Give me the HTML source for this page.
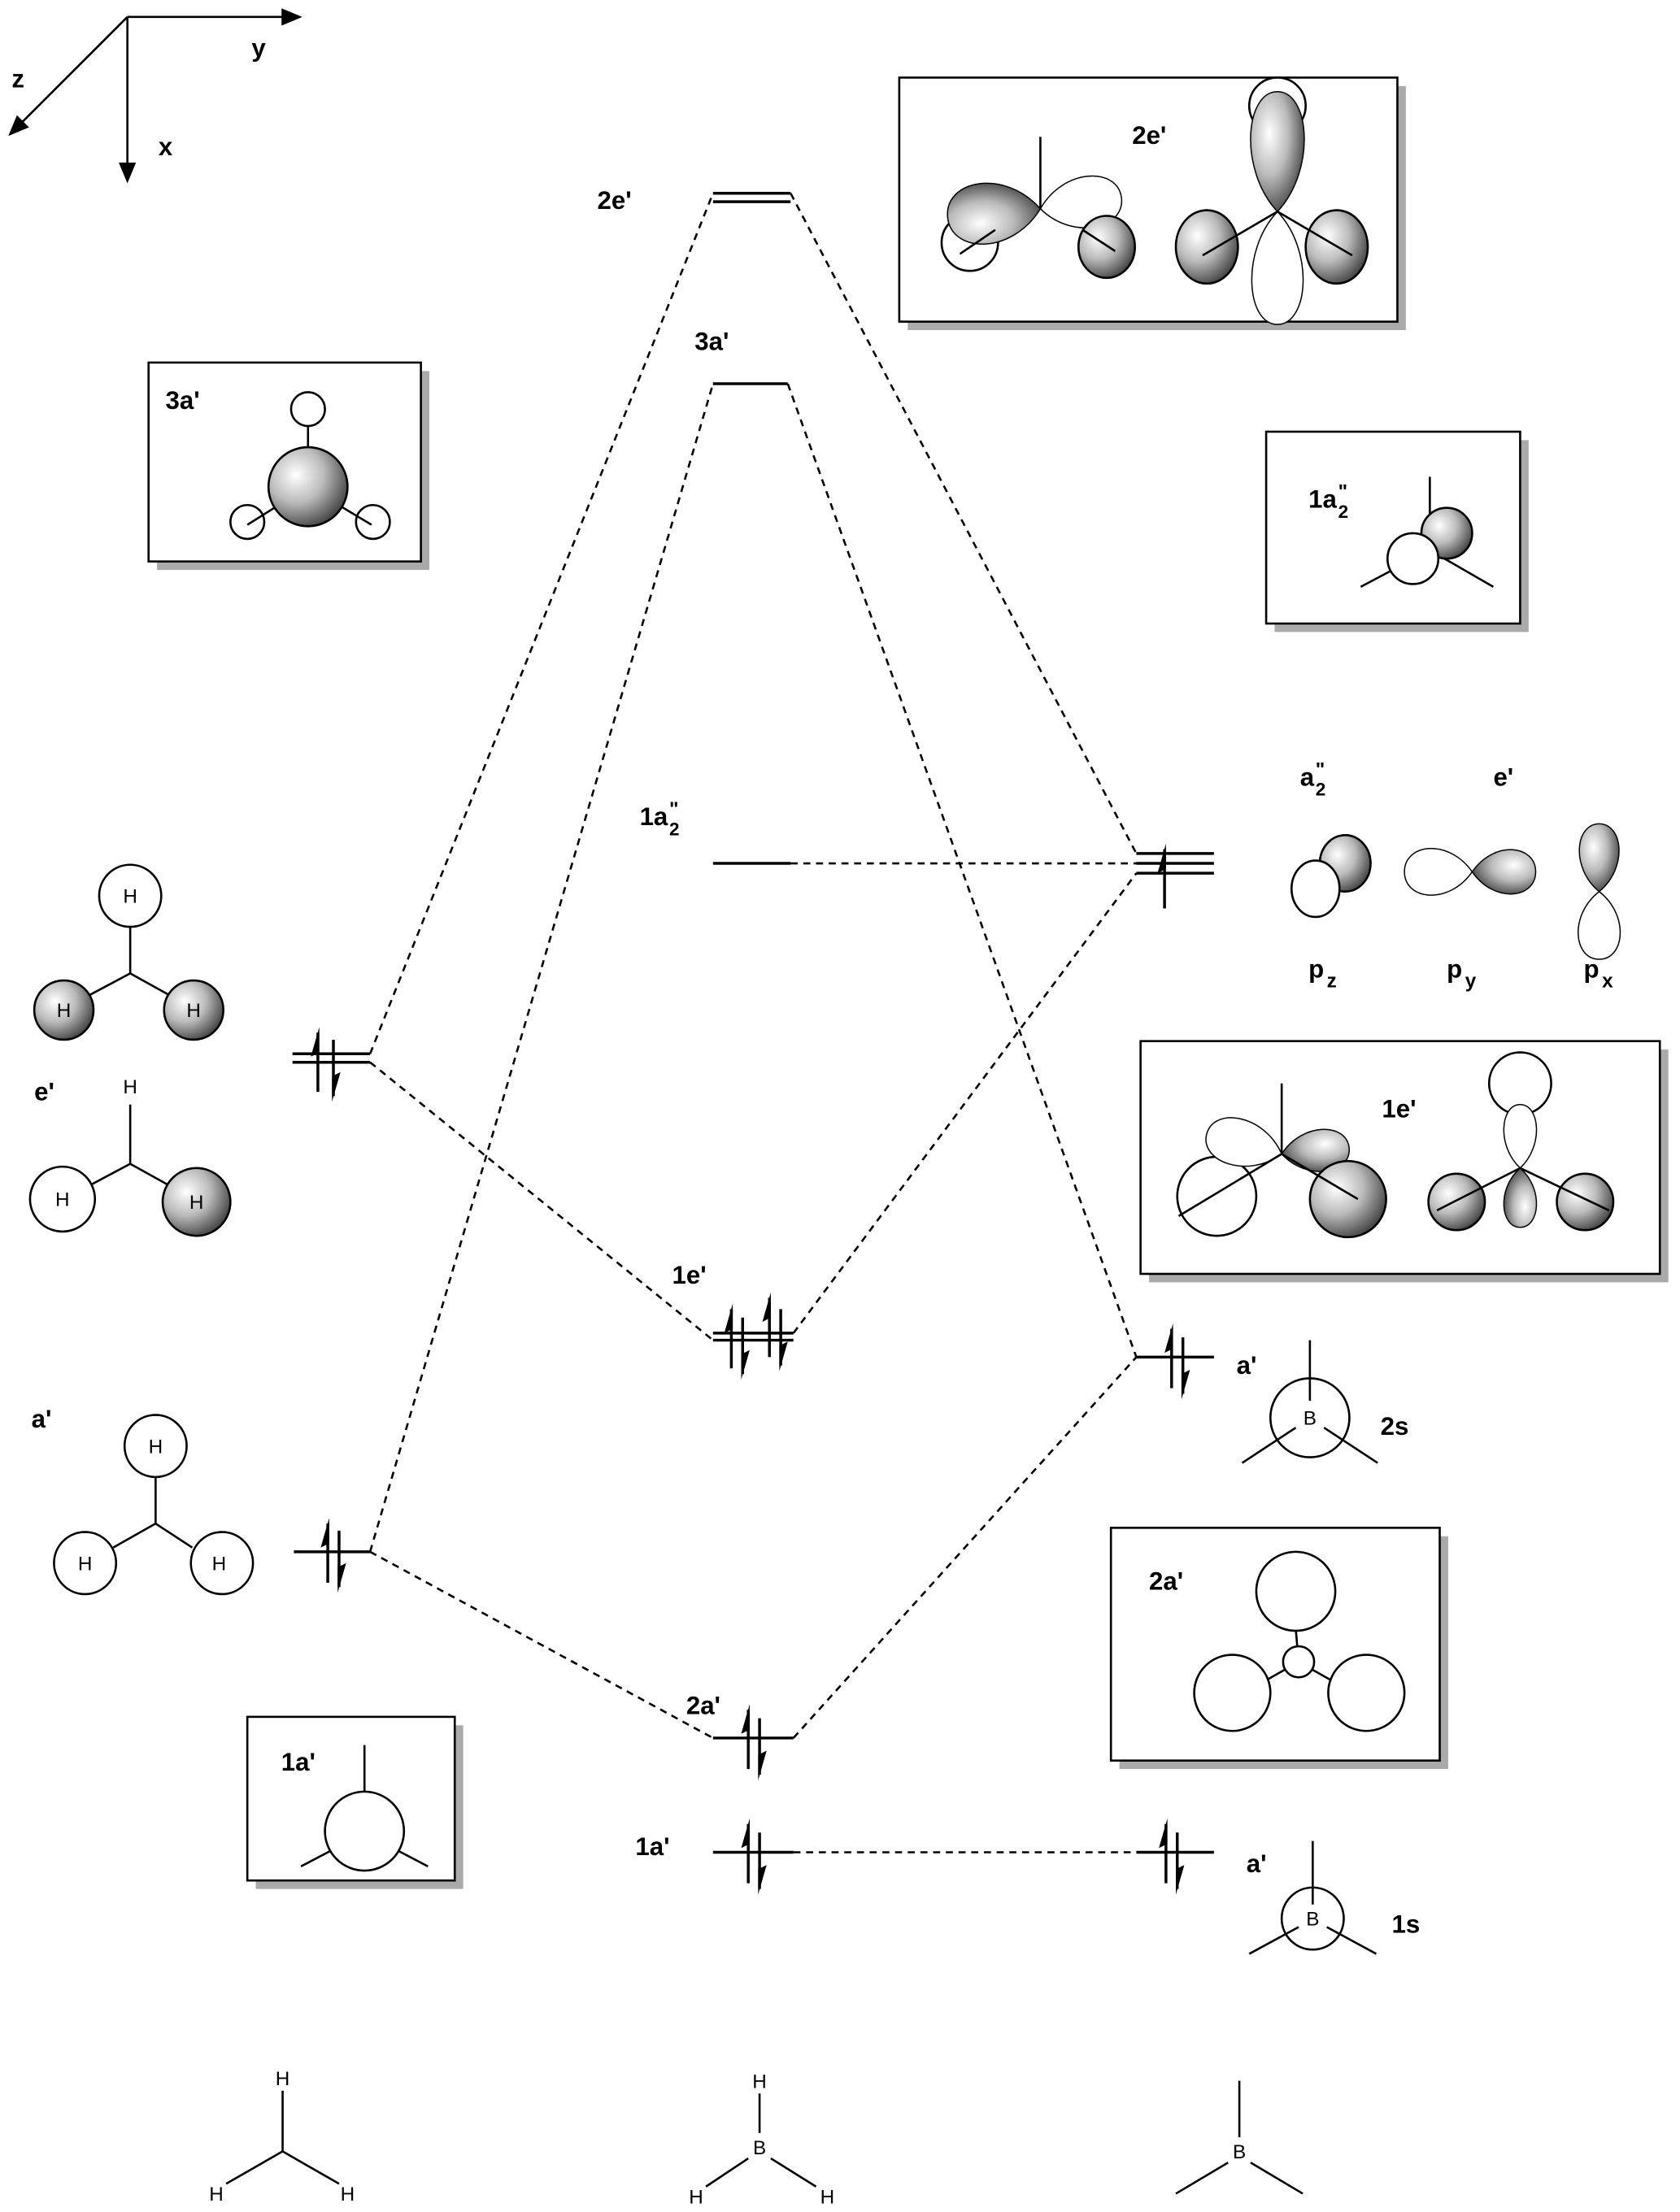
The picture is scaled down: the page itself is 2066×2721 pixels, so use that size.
<!DOCTYPE html>
<html><head><meta charset="utf-8"><style>
html,body{margin:0;padding:0;background:#fff;}
svg{display:block;}
text{font-family:"Liberation Sans",sans-serif;}
.b{font-weight:bold;font-size:18px;}
.h{font-size:14px;}
</style></head><body>
<svg width="2066" height="2721" viewBox="0 0 1190 1568" xmlns="http://www.w3.org/2000/svg">
<defs>
<radialGradient id="g" cx="35%" cy="35%" r="70%">
<stop offset="0" stop-color="#fff"/><stop offset="0.5" stop-color="#bbb"/><stop offset="1" stop-color="#444"/>
</radialGradient>
<path id="lobe" vector-effect="non-scaling-stroke" d="M0 0 C -1.2 -0.35 -1 -1 0 -1 C 1 -1 1.2 -0.35 0 0 Z"/>
<g id="up"><line x1="0" y1="-20" x2="0" y2="22" stroke="#000" stroke-width="2"/><polygon points="1,-24 -5,-3 1,-6" fill="#000"/></g>
<g id="dn"><line x1="0" y1="-18" x2="0" y2="22" stroke="#000" stroke-width="2"/><polygon points="-1,26 5,5 -1,8" fill="#000"/></g>
</defs>
<g stroke="#000" stroke-width="1.5" fill="none">
<line x1="90" y1="12" x2="205" y2="12"/><polygon points="212,12 200,7 200,17" fill="#000"/>
<line x1="90" y1="12" x2="90" y2="120"/><polygon points="90,128 85,116 95,116" fill="#000"/>
<line x1="90" y1="12" x2="12" y2="90"/><polygon points="7,95 12,83 19,90" fill="#000"/>
</g>
<text x="178" y="40" class="b">y</text><text x="112" y="110" class="b">x</text><text x="8" y="62" class="b">z</text>

<g fill="#aaa">
<rect x="643" y="61" width="353" height="173"/><rect x="111" y="263" width="193" height="141"/>
<rect x="903" y="312" width="180" height="136"/><rect x="814" y="744" width="368" height="165"/>
<rect x="793" y="1089" width="233" height="165"/><rect x="181" y="1223" width="147" height="116"/>
</g>
<g fill="#fff" stroke="#000" stroke-width="1.5">
<rect x="637" y="55" width="353" height="173"/><rect x="105" y="257" width="193" height="141"/>
<rect x="897" y="306" width="180" height="136"/><rect x="808" y="738" width="368" height="165"/>
<rect x="787" y="1083" width="233" height="165"/><rect x="175" y="1217" width="147" height="116"/>
</g>

<g stroke="#000" stroke-width="1.5" stroke-dasharray="5,4" fill="none">
<line x1="262" y1="747" x2="505" y2="137"/><line x1="560" y1="137" x2="805" y2="605"/>
<line x1="262" y1="1100" x2="505" y2="272"/><line x1="558" y1="272" x2="805" y2="962"/>
<line x1="560" y1="612" x2="805" y2="612"/>
<line x1="262" y1="753" x2="505" y2="950"/><line x1="562" y1="945" x2="805" y2="619"/>
<line x1="262" y1="1100" x2="505" y2="1232"/><line x1="562" y1="1232" x2="805" y2="962"/>
<line x1="562" y1="1313" x2="805" y2="1313"/>
</g>
<g stroke="#000" stroke-width="2">
<line x1="505" y1="137" x2="560" y2="137"/><line x1="505" y1="143" x2="560" y2="143"/>
<line x1="505" y1="272" x2="558" y2="272"/>
<line x1="505" y1="612" x2="560" y2="612"/>
<line x1="505" y1="945" x2="562" y2="945"/><line x1="505" y1="950" x2="562" y2="950"/>
<line x1="505" y1="1232" x2="562" y2="1232"/>
<line x1="505" y1="1313" x2="562" y2="1313"/>
<line x1="207" y1="747" x2="262" y2="747"/><line x1="207" y1="753" x2="262" y2="753"/>
<line x1="208" y1="1100" x2="262" y2="1100"/>
<line x1="805" y1="605" x2="860" y2="605"/><line x1="805" y1="612" x2="860" y2="612"/><line x1="805" y1="619" x2="860" y2="619"/>
<line x1="805" y1="962" x2="860" y2="962"/>
<line x1="805" y1="1313" x2="860" y2="1313"/>
</g>
<use href="#up" x="225" y="752"/><use href="#dn" x="236" y="755"/>
<use href="#up" x="232" y="1100"/><use href="#dn" x="240" y="1103"/>
<use href="#up" x="518" y="948"/><use href="#dn" x="526" y="952"/>
<use href="#up" x="545" y="940"/><use href="#dn" x="553" y="946"/>
<use href="#up" x="530" y="1232"/><use href="#dn" x="538" y="1236"/>
<use href="#up" x="530" y="1313"/><use href="#dn" x="538" y="1317"/>
<use href="#up" x="825" y="622"/>
<use href="#up" x="830" y="962"/><use href="#dn" x="838" y="966"/>
<use href="#up" x="826" y="1313"/><use href="#dn" x="834" y="1317"/>

<g class="b">
<text x="423" y="148">2e'</text><text x="492" y="248">3a'</text>
<text x="453" y="585">1a</text><text x="474" y="578" font-size="14">"</text><text x="474" y="592" font-size="13">2</text>
<text x="476" y="910">1e'</text><text x="486" y="1215">2a'</text><text x="450" y="1315">1a'</text>
<text x="24" y="780">e'</text><text x="22" y="1012">a'</text>
<text x="921" y="557">a</text><text x="932" y="550" font-size="14">"</text><text x="932" y="564" font-size="13">2</text>
<text x="1058" y="557">e'</text>
<text x="927" y="693">p</text><text x="940" y="700" font-size="14">z</text>
<text x="1025" y="693">p</text><text x="1038" y="700" font-size="14">y</text>
<text x="1122" y="693">p</text><text x="1135" y="700" font-size="14">x</text>
<text x="876" y="974">a'</text><text x="978" y="1017">2s</text>
<text x="883" y="1327">a'</text><text x="986" y="1370">1s</text>
<text x="802" y="102">2e'</text><text x="117" y="290">3a'</text>
<text x="927" y="360">1a</text><text x="948" y="353" font-size="14">"</text><text x="948" y="367" font-size="13">2</text>
<text x="979" y="792">1e'</text><text x="814" y="1127">2a'</text><text x="199" y="1255">1a'</text>
</g>

<g stroke="#000" stroke-width="1.5">
<circle cx="687" cy="172" r="20" fill="#fff"/>
<use href="#lobe" transform="translate(737,148) rotate(-95) scale(26,66)" fill="url(#g)"/>
<use href="#lobe" transform="translate(737,148) rotate(82) scale(22,58)" fill="#fff"/>
<ellipse cx="784" cy="175" rx="20" ry="22" fill="url(#g)"/>
<line x1="737" y1="148" x2="737" y2="97"/><line x1="680" y1="180" x2="705" y2="163"/><line x1="767" y1="163" x2="790" y2="178"/>
<circle cx="905" cy="75" r="20" fill="#fff"/>
<use href="#lobe" transform="translate(905,150) scale(23,85)" fill="url(#g)"/>
<use href="#lobe" transform="translate(905,150) rotate(180) scale(22,80)" fill="#fff"/>
<ellipse cx="855" cy="175" rx="22" ry="26" fill="url(#g)"/><ellipse cx="947" cy="175" rx="22" ry="26" fill="url(#g)"/>
<line x1="905" y1="150" x2="852" y2="181" /><line x1="905" y1="150" x2="958" y2="181"/>
<line x1="218" y1="345" x2="218" y2="302"/><line x1="218" y1="345" x2="175" y2="372"/><line x1="218" y1="345" x2="263" y2="372"/>
<circle cx="218" cy="290" r="12" fill="#fff"/><circle cx="175" cy="370" r="12" fill="none"/><circle cx="264" cy="370" r="12" fill="none"/>
<circle cx="218" cy="345" r="28" fill="url(#g)"/>
<line x1="1013" y1="390" x2="1013" y2="338"/><line x1="1013" y1="390" x2="964" y2="416"/><line x1="1013" y1="390" x2="1058" y2="416"/>
<circle cx="1025" cy="378" r="18" fill="url(#g)"/><circle cx="1001" cy="396" r="18" fill="#fff"/>
<ellipse cx="953" cy="612" rx="18" ry="20" fill="url(#g)"/><ellipse cx="932" cy="630" rx="17" ry="20" fill="#fff"/>
<use href="#lobe" transform="translate(1043,618) rotate(-90) scale(20,48)" fill="#fff"/>
<use href="#lobe" transform="translate(1043,618) rotate(90) scale(19,45)" fill="url(#g)"/>
<use href="#lobe" transform="translate(1133,632) scale(17,48)" fill="url(#g)"/>
<use href="#lobe" transform="translate(1133,632) rotate(180) scale(18,48)" fill="#fff"/>
<circle cx="862" cy="848" r="28" fill="#fff"/>
<use href="#lobe" transform="translate(908,818) rotate(-75) scale(20,55)" fill="#fff"/>
<use href="#lobe" transform="translate(908,818) rotate(85) scale(18,48)" fill="url(#g)"/>
<circle cx="955" cy="850" r="27" fill="url(#g)"/>
<line x1="908" y1="818" x2="908" y2="768"/><line x1="908" y1="818" x2="835" y2="862"/><line x1="908" y1="818" x2="962" y2="850"/>
<circle cx="1077" cy="768" r="22" fill="#fff"/>
<use href="#lobe" transform="translate(1077,828) scale(14,45)" fill="#fff"/>
<use href="#lobe" transform="translate(1077,828) rotate(180) scale(14,42)" fill="url(#g)"/>
<circle cx="1032" cy="852" r="20" fill="url(#g)"/><circle cx="1123" cy="852" r="20" fill="url(#g)"/>
<line x1="1077" y1="828" x2="1018" y2="858"/><line x1="1077" y1="828" x2="1140" y2="858"/>
<line x1="920" y1="1178" x2="918" y2="1155"/><line x1="920" y1="1178" x2="890" y2="1195"/><line x1="920" y1="1178" x2="950" y2="1195"/>
<circle cx="918" cy="1128" r="28" fill="#fff"/><circle cx="873" cy="1200" r="27" fill="#fff"/><circle cx="968" cy="1200" r="27" fill="#fff"/><circle cx="920" cy="1178" r="11" fill="#fff"/>
<circle cx="258" cy="1298" r="28" fill="#fff"/>
<line x1="258" y1="1270" x2="258" y2="1237"/><line x1="234" y1="1312" x2="213" y2="1323"/><line x1="282" y1="1312" x2="303" y2="1323"/>
<line x1="92" y1="690" x2="92" y2="657"/><line x1="92" y1="690" x2="45" y2="715"/><line x1="92" y1="690" x2="137" y2="715"/>
<circle cx="92" cy="635" r="22" fill="#fff"/><circle cx="45" cy="716" r="21" fill="url(#g)"/><circle cx="137" cy="716" r="21" fill="url(#g)"/>
<line x1="92" y1="825" x2="92" y2="783"/><line x1="92" y1="825" x2="45" y2="850"/><line x1="92" y1="825" x2="137" y2="850"/>
<circle cx="44" cy="850" r="23" fill="#fff"/><circle cx="139" cy="852" r="24" fill="url(#g)"/>
<line x1="110" y1="1080" x2="110" y2="1047"/><line x1="110" y1="1080" x2="80" y2="1097"/><line x1="110" y1="1080" x2="136" y2="1097"/>
<circle cx="110" cy="1025" r="22" fill="#fff"/><circle cx="60" cy="1108" r="22" fill="#fff"/><circle cx="157" cy="1108" r="22" fill="#fff"/>
<circle cx="928" cy="1005" r="28" fill="#fff"/>
<line x1="928" y1="950" x2="928" y2="993"/><line x1="918" y1="1012" x2="880" y2="1037"/><line x1="938" y1="1012" x2="976" y2="1037"/>
<circle cx="930" cy="1360" r="22" fill="#fff"/>
<line x1="930" y1="1305" x2="930" y2="1350"/><line x1="920" y1="1366" x2="885" y2="1385"/><line x1="940" y1="1366" x2="975" y2="1385"/>
<line x1="200" y1="1482" x2="200" y2="1525"/><line x1="200" y1="1525" x2="160" y2="1548"/><line x1="200" y1="1525" x2="240" y2="1548"/>
<line x1="538" y1="1484" x2="538" y2="1512"/><line x1="530" y1="1530" x2="500" y2="1550"/><line x1="546" y1="1530" x2="578" y2="1550"/>
<line x1="878" y1="1475" x2="878" y2="1515"/><line x1="870" y1="1533" x2="833" y2="1555"/><line x1="886" y1="1533" x2="923" y2="1555"/>
</g>
<g class="h" text-anchor="middle">
<text x="92" y="640">H</text><text x="45" y="721">H</text><text x="137" y="721">H</text>
<text x="92" y="775">H</text><text x="44" y="855">H</text><text x="139" y="857">H</text>
<text x="110" y="1030">H</text><text x="60" y="1113">H</text><text x="155" y="1113">H</text>
<text x="928" y="1010">B</text><text x="930" y="1365">B</text>
<text x="200" y="1478">H</text><text x="153" y="1560">H</text><text x="246" y="1560">H</text>
<text x="538" y="1480">H</text><text x="538" y="1527">B</text><text x="493" y="1562">H</text><text x="586" y="1562">H</text>
<text x="878" y="1530">B</text>
</g>
</svg>
</body></html>
